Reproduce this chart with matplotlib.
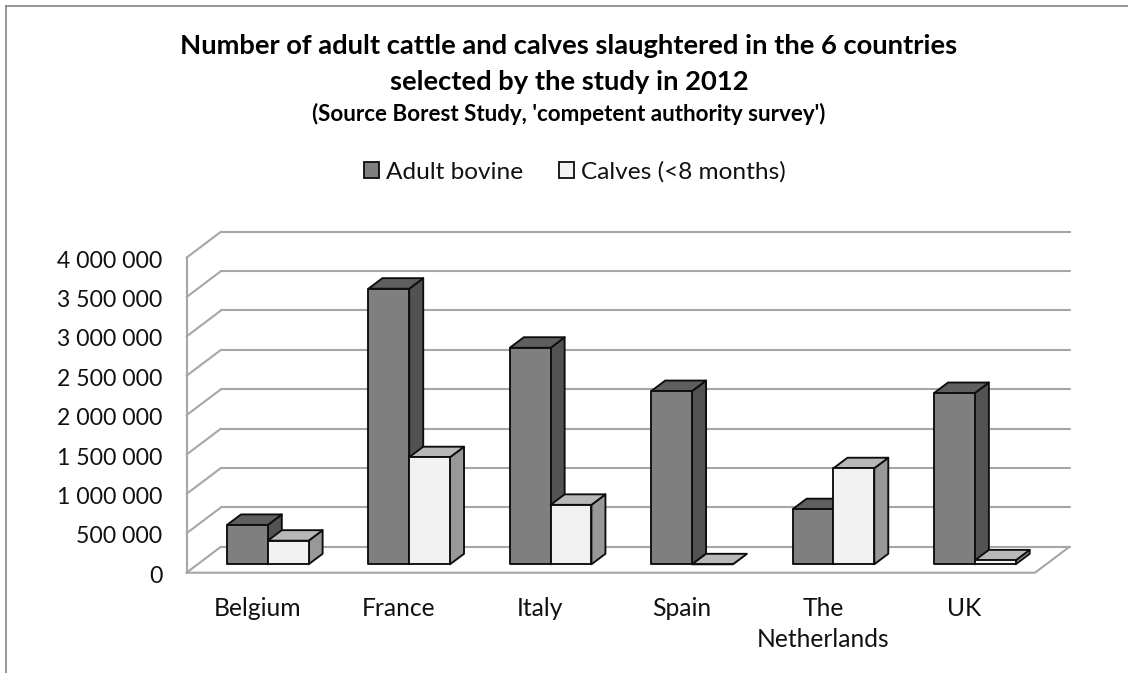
import matplotlib
matplotlib.use("Agg")
import matplotlib.pyplot as plt
from matplotlib.patches import Patch, Polygon, Rectangle
from matplotlib.transforms import ScaledTranslation

countries = ["Belgium", "France", "Italy", "Spain", "The\nNetherlands", "UK"]
adult_bovine = [500000, 3500000, 2750000, 2200000, 700000, 2175000]
calves = [300000, 1360000, 755000, 0, 1220000, 50000]
y_ticks = [0, 500000, 1000000, 1500000, 2000000, 2500000, 3000000, 3500000, 4000000]
y_labels = ["0", "500 000", "1 000 000", "1 500 000", "2 000 000",
            "2 500 000", "3 000 000", "3 500 000", "4 000 000"]

W, H = 1128, 673
FONT = "Lato"
GRID = "#a6a6a6"
TEXT = "#111111"
EDGE = "#0d0d0d"

# plot plane in pixels, measured from the top left of the figure
LEFT, RIGHT, BOTTOM, TOP = 186.5, 1035.0, 572.7, 257.7
X_PX = (RIGHT - LEFT) / 6
Y_PX = (BOTTOM - TOP) / 4000000

# oblique offsets, converted to data units
WALL_DX, WALL_DY = 34.5 / X_PX, 26.0 / Y_PX
BAR_DX, BAR_DY = 14.0 / X_PX, 10.5 / Y_PX
BAR_W = 40.8 / X_PX
BAR_SHIFT = 10.6 / X_PX
BAR_BASE = 8.4 / Y_PX


def draw_bar(ax, left, value, front, top, side):
    base = BAR_BASE
    peak = base + value
    right = left + BAR_W
    style = dict(edgecolor=EDGE, lw=1.35, joinstyle="round", zorder=3)
    ax.add_patch(Polygon([(right, base), (right + BAR_DX, base + BAR_DY),
                          (right + BAR_DX, peak + BAR_DY), (right, peak)],
                         facecolor=side, **style))
    ax.add_patch(Polygon([(left, peak), (right, peak), (right + BAR_DX, peak + BAR_DY),
                          (left + BAR_DX, peak + BAR_DY)],
                         facecolor=top, **style))
    ax.add_patch(Rectangle((left, base), BAR_W, value, facecolor=front, **style))


fig = plt.figure(figsize=(W / 100, H / 100), dpi=100, facecolor="white")
ax = fig.add_axes([LEFT / W, 1 - BOTTOM / H, (RIGHT - LEFT) / W, (BOTTOM - TOP) / H])
ax.set_xlim(-0.5, 5.5)
ax.set_ylim(0, 4000000)
ax.patch.set_visible(False)
for spine in ax.spines.values():
    spine.set_visible(False)

# walls and gridlines
grid = dict(color=GRID, lw=1.5, clip_on=False, zorder=1, solid_capstyle="round")
for v in y_ticks:
    ax.plot([-0.5, -0.5 + WALL_DX], [v, v + WALL_DY], **grid)
    ax.plot([-0.5 + WALL_DX, 5.5 + WALL_DX], [v + WALL_DY, v + WALL_DY], **grid)
ax.plot([-0.5, -0.5], [0, 4000000], **grid)
ax.plot([-0.5, 5.5, 5.5 + WALL_DX], [0, 0, WALL_DY], **grid)

for i in range(len(countries)):
    center = i + BAR_SHIFT
    draw_bar(ax, center - BAR_W, adult_bovine[i], "#7f7f7f", "#5f5f5f", "#525252")
    draw_bar(ax, center, calves[i], "#f2f2f2", "#b8b8b8", "#989898")

ax.set_xticks(range(len(countries)))
ax.set_xticklabels(countries, fontfamily=FONT, fontsize=17.7, color=TEXT, linespacing=1.42)
ax.set_yticks(y_ticks)
ax.set_yticklabels(y_labels, fontfamily=FONT, fontsize=16.6, color=TEXT)
ax.tick_params(axis="x", length=0, pad=17.5)
ax.tick_params(axis="y", length=0, pad=17.5)

# y labels sit slightly below their gridline ends
nudge = ScaledTranslation(0, -1.5 / 100, fig.dpi_scale_trans)
for label in ax.get_yticklabels():
    label.set_transform(label.get_transform() + nudge)

# outer chart border, open on the right and at the bottom
border = dict(color="#8c8c8c", lw=1.3, transform=fig.transFigure, clip_on=False)
fig.add_artist(plt.Line2D([6 / W, 6 / W], [0, 1 - 6 / H], **border))
fig.add_artist(plt.Line2D([6 / W, 1], [1 - 6 / H, 1 - 6 / H], **border))

fig.text(569 / W, 1 - 46 / H, "Number of adult cattle and calves slaughtered in the 6 countries",
         ha="center", va="center", fontfamily=FONT, fontweight="bold", fontsize=19.75, color="black")
fig.text(569 / W, 1 - 82 / H, "selected by the study in 2012",
         ha="center", va="center", fontfamily=FONT, fontweight="bold", fontsize=19.75, color="black")
fig.text(569 / W, 1 - 114 / H, "(Source Borest Study, 'competent authority survey')",
         ha="center", va="center", fontfamily=FONT, fontweight="bold", fontsize=16.1, color="black")

handles = [Patch(facecolor="#7f7f7f", edgecolor=EDGE, lw=1.3, label="Adult bovine"),
           Patch(facecolor="#f2f2f2", edgecolor=EDGE, lw=1.3, label="Calves (<8 months)")]
fig.legend(handles=handles, loc="center", bbox_to_anchor=(575 / W, 1 - 172 / H), ncol=2, frameon=False,
           handlelength=0.62, handleheight=0.66, handletextpad=0.3, columnspacing=1.45,
           prop={"family": FONT, "size": 17.6}, labelcolor=TEXT)

fig.savefig("out.png", dpi=100)
plt.close(fig)
